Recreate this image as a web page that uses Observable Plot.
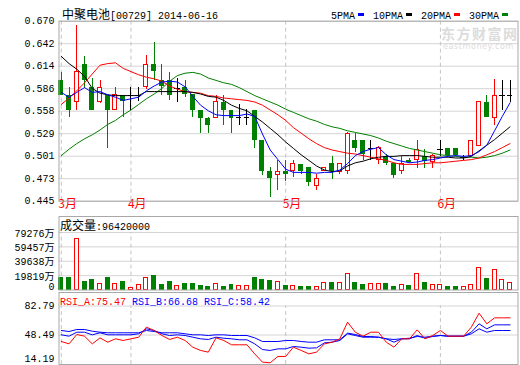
<!DOCTYPE html>
<html><head><meta charset="utf-8">
<script src="https://cdn.jsdelivr.net/npm/d3@7"></script>
<script src="https://cdn.jsdelivr.net/npm/@observablehq/plot@0.6"></script>
<style>
body{margin:0;background:#fff;}
#wrap{position:relative;width:520px;height:365px;overflow:hidden;background:#fff;}
#wrap svg{position:absolute;left:0;}
.abs{position:absolute;white-space:nowrap;line-height:12px;}
.cjk{font-family:"Noto Sans CJK SC";font-size:12px;}
.asc{font-family:"Liberation Mono";font-size:10px;}
.sw{display:inline-block;width:6px;height:3px;vertical-align:middle;margin:0 9px 0 3px;position:relative;top:-1px;}
</style></head><body><div id="wrap"></div>
<script>
// ---- data ----
const stockName = "中聚电池";
const stockCode = "[00729] 2014-06-16";
const monthIdx = [0, 9, 29, 49];
const monthLabels = ["3月", "4月", "5月", "6月"];
const priceTicks = [0.445, 0.473125, 0.50125, 0.529375, 0.5575, 0.585625, 0.61375, 0.641875, 0.670];
const priceTickLabels = ["0.445", "0.473", "0.501", "0.529", "0.558", "0.586", "0.614", "0.642", "0.670"];
const opens = [.5955,.5767,.5692,.6163,.5871,.5692,.5775,.5596,.5775,.5775,.5775,.5879,.6159,.5963,.5957,.5857,.5876,.5780,.5590,.5490,.5490,.5686,.5590,.5494,.5494,.5588,.5207,.4825,.4780,.4825,.4825,.4915,.4869,.4644,.4831,.4917,.4821,.4825,.5207,.5207,.5110,.4965,.5010,.4917,.4825,.4965,.4967,.5009,.4946,.5096,.5105,.5105,.4992,.5017,.5142,.5684,.5492,.5775,.5775];
const highs = [.6065,.5871,.6642,.6255,.5984,.5963,.5775,.5871,.5775,.5871,.5871,.6270,.6434,.6155,.6065,.5982,.5960,.5780,.5590,.5496,.5773,.5773,.5590,.5655,.5596,.5588,.5207,.4873,.4965,.4965,.4965,.4915,.4869,.4785,.4871,.5007,.4921,.5310,.5294,.5207,.5209,.5140,.5030,.4917,.5010,.4985,.5205,.5096,.5030,.5205,.5105,.5105,.5025,.5205,.5684,.5775,.5971,.5954,.5954];
const lows = [.5775,.5492,.5587,.5860,.5587,.5671,.5109,.5580,.5492,.5587,.5692,.5850,.5963,.5775,.5710,.5680,.5750,.5496,.5298,.5298,.5490,.5398,.5298,.5398,.5398,.5115,.4773,.4494,.4590,.4700,.4750,.4780,.4638,.4590,.4825,.4725,.4780,.4790,.5055,.4965,.4962,.4915,.4900,.4730,.4778,.4917,.4863,.4863,.4863,.5009,.5009,.5009,.4963,.5017,.5142,.5492,.5400,.5588,.5688];
const closes = [.5775,.5587,.6059,.5963,.5587,.5871,.5587,.5775,.5692,.5775,.5775,.6157,.6067,.5879,.5773,.5857,.5780,.5590,.5490,.5402,.5686,.5590,.5490,.5494,.5494,.5211,.4825,.4738,.4815,.4780,.4915,.4821,.4690,.4731,.4867,.4821,.4917,.5294,.5113,.5038,.5110,.5111,.4921,.4773,.4917,.4938,.5096,.4946,.5009,.5096,.5025,.5025,.4992,.5205,.5684,.5492,.5767,.5775,.5775];
const ma5 = [.581,.575,.581,.587,.581,.582,.578,.575,.571,.573,.575,.583,.589,.594,.595,.594,.588,.576,.565,.558,.553,.552,.552,.552,.554,.551,.529,.509,.497,.485,.481,.481,.481,.480,.481,.481,.484,.492,.502,.507,.510,.512,.503,.497,.495,.493,.494,.496,.497,.499,.501,.502,.501,.502,.507,.515,.533,.551,.568];
const ma10 = [.626,.617,.610,.601,.586,.580,.578,.577,.577,.577,.577,.582,.582,.582,.582,.582,.582,.581,.579,.576,.575,.571,.565,.561,.558,.551,.544,.536,.528,.519,.511,.503,.496,.489,.484,.482,.483,.489,.493,.495,.498,.500,.501,.501,.502,.502,.502,.501,.500,.500,.500,.499,.499,.501,.508,.515,.522,.530,.538];
const ma20 = [.566,.574,.583,.593,.604,.615,.617,.618,.611,.607,.603,.600,.598,.595,.589,.585,.582,.581,.580,.577,.576,.574,.573,.572,.571,.569,.565,.559,.553,.546,.537,.530,.523,.517,.512,.509,.507,.505,.504,.502,.500,.498,.496,.493,.491,.491,.491,.492,.493,.493,.494,.495,.496,.497,.499,.503,.507,.512,.517];
const ma30 = [.502,.510,.517,.523,.528,.534,.541,.546,.553,.559,.566,.573,.579,.586,.595,.602,.605,.606,.604,.599,.596,.593,.591,.587,.582,.577,.573,.569,.565,.560,.556,.552,.548,.545,.541,.538,.536,.533,.531,.529,.527,.524,.520,.517,.514,.511,.509,.507,.505,.503,.502,.501,.500,.500,.499,.500,.502,.505,.509];
const maNames = ["5PMA", "10PMA", "20PMA", "30PMA"];
const maColors = ["#0000ff", "#000000", "#ff0000", "#008000"];
const volumeTitle = "成交量";
const volumeLast = "96420000";
const volumes = [17650,17650,70590,12130,14480,8550,17650,8550,12130,2070,7580,16820,19990,7580,12130,5790,9380,9380,6200,4830,8550,4830,7580,5790,4830,17650,14890,13100,11310,6200,5790,4830,4830,3860,10340,10340,10340,22340,10340,7580,8550,8550,8960,4830,7170,5790,22340,10340,7170,7170,4830,4830,3450,7170,30610,15440,27850,14060,9642];
const volTicks = [0, 19819, 39638, 59457, 79276];
const volTickLabels = ["0", "19819万", "39638万", "59457万", "79276万"];
const rsiA = [40.8,38.0,49.1,47.1,38.0,45.1,40.0,44.0,42.0,44.0,45.9,57.8,53.8,47.9,43.2,45.9,42.0,34.1,30.2,28.2,45.1,42.0,36.9,36.9,36.9,26.2,16.4,15.6,23.1,23.1,34.1,30.2,26.2,28.2,38.0,40.0,44.0,63.7,51.8,47.1,51.8,51.8,40.0,34.1,44.0,44.0,54.6,44.0,47.9,53.8,47.1,47.1,47.1,57.8,74.3,61.7,68.8,68.8,68.8];
const rsiB = [48.7,47.1,51.8,51.8,48.7,51.1,48.7,48.7,48.7,48.7,49.9,55.8,53.8,49.9,47.9,48.7,47.9,45.9,44.0,43.2,45.9,44.7,44.0,42.8,42.8,38.0,31.3,30.2,32.1,32.1,34.9,34.1,32.9,33.3,39.2,40.0,42.0,49.9,47.9,45.9,45.9,45.9,44.0,40.0,44.0,44.0,47.9,44.7,46.7,47.9,47.1,47.1,47.1,51.8,61.7,55.8,60.5,60.5,60.5];
const rsiC = [53.8,52.6,55.0,55.0,53.0,51.8,51.1,51.1,51.1,51.1,51.1,53.8,52.6,51.1,51.1,51.1,49.9,48.7,48.7,47.9,48.7,48.7,47.9,47.9,47.9,45.1,40.8,40.8,40.8,42.0,42.0,40.8,40.0,40.0,42.8,42.8,42.8,50.7,49.1,46.7,46.7,45.9,44.0,43.2,44.0,44.7,46.7,45.9,47.1,47.9,47.1,47.1,47.1,49.9,55.8,51.8,53.8,53.8,53.8];
const rsiTicks = [14.19, 48.49, 82.79];
const rsiNames = ["RSI_A:75.47", "RSI_B:66.68", "RSI_C:58.42"];
const rsiColors = ["#ff0000", "#0000ff", "#0000ff"];

// ---- build ----
const RED = "#ff0000", GREEN = "#008000", GRID = "#d4d4d4", FRAME = "#a8a8a8", DASH = "#c4c4c4";
const bars = closes.map((c, i) => ({i, o: opens[i], h: highs[i], l: lows[i], c, v: volumes[i]}));
const up = bars.filter(d => d.c > d.o), down = bars.filter(d => d.c < d.o), flat = bars.filter(d => d.c === d.o);
const volUp = bars.filter(d => d.c >= d.o), volDown = bars.filter(d => d.c < d.o);
const months = monthIdx.map((i, k) => ({i, label: monthLabels[k]}));
const xDomain = [-0.3, 59.03];
const common = {width: 520, marginLeft: 58.5, marginRight: 2.5,
  style: {background: "transparent", fontFamily: "Liberation Mono, Noto Sans CJK SC", fontSize: "10px", overflow: "visible"}};
const line = (arr, color) => Plot.line(arr, {x: (d, i) => i, y: d => d, stroke: color, strokeWidth: 1});
const wrap = document.getElementById("wrap");

// price panel
const p1 = Plot.plot({...common, height: 216, marginTop: 20.7, marginBottom: 15.3,
  x: {domain: xDomain, axis: null}, y: {domain: [0.445, 0.670], axis: null},
  marks: [
    Plot.ruleY(priceTicks, {stroke: GRID}),
    Plot.ruleX(monthIdx, {stroke: DASH, strokeDasharray: "4,3"}),
    Plot.text(priceTicks, {y: d => d, text: d => priceTickLabels[priceTicks.indexOf(d)], frameAnchor: "left", dx: -4.5, textAnchor: "end", fill: "black"}),
    Plot.text(months, {x: "i", text: "label", frameAnchor: "bottom", dy: 7, dx: -3, textAnchor: "start", fill: RED, fontSize: 12, fontFamily: "Noto Sans CJK SC"}),
    Plot.ruleX(up, {x: "i", y1: "l", y2: "h", stroke: RED, shapeRendering: "crispEdges"}),
    Plot.ruleX(down, {x: "i", y1: "l", y2: "h", stroke: GREEN, shapeRendering: "crispEdges"}),
    Plot.ruleX(flat, {x: "i", y1: "l", y2: "h", stroke: "black", shapeRendering: "crispEdges"}),
    Plot.rect(down, {x1: d => d.i - 0.32, x2: d => d.i + 0.32, y1: "o", y2: "c", fill: GREEN, shapeRendering: "crispEdges"}),
    Plot.rect(up, {x1: d => d.i - 0.26, x2: d => d.i + 0.26, y1: "o", y2: "c", fill: "white", stroke: RED, shapeRendering: "crispEdges"}),
    Plot.ruleY(flat, {y: "c", x1: d => d.i - 0.35, x2: d => d.i + 0.35, stroke: "black", shapeRendering: "crispEdges"}),
    line(ma30, maColors[3]), line(ma20, maColors[2]), line(ma10, maColors[1]), line(ma5, maColors[0]),
    Plot.frame({stroke: FRAME})
  ]});
p1.style.top = "0px";
wrap.appendChild(p1);

// volume panel
const volTop = 79276 + 16 * 79276 / 57.5;
const p2 = Plot.plot({...common, height: 82, marginTop: 6, marginBottom: 2.5,
  x: {domain: xDomain, axis: null}, y: {domain: [0, volTop], axis: null},
  marks: [
    Plot.ruleY(volTicks.slice(1), {stroke: GRID}),
    Plot.ruleX(monthIdx, {y1: 0, y2: volTicks[4], stroke: DASH, strokeDasharray: "4,3"}),
    Plot.text(volTicks.slice(1), {y: d => d, text: d => volTickLabels[volTicks.indexOf(d)], frameAnchor: "left", dx: -4.5, dy: 1, textAnchor: "end", fill: "black"}),
    Plot.text(volTicks.slice(0, 1), {y: d => d, text: d => volTickLabels[volTicks.indexOf(d)], frameAnchor: "left", dx: -4.5, dy: -3, textAnchor: "end", fill: "black"}),
    Plot.rect(volDown, {x1: d => d.i - 0.32, x2: d => d.i + 0.32, y1: 0, y2: "v", fill: GREEN, shapeRendering: "crispEdges"}),
    Plot.rect(volUp, {x1: d => d.i - 0.26, x2: d => d.i + 0.26, y1: 0, y2: "v", fill: "white", stroke: RED, shapeRendering: "crispEdges"}),
    Plot.frame({stroke: FRAME})
  ]});
p2.style.top = "210px";
wrap.appendChild(p2);

// RSI panel
const p3 = Plot.plot({...common, height: 75, marginTop: 2, marginBottom: 1,
  x: {domain: xDomain, axis: null}, y: {domain: [13.6, 98.76], axis: null},
  marks: [
    Plot.ruleY(rsiTicks.slice(1), {stroke: GRID}),
    Plot.ruleX(monthIdx, {y1: 13.6, y2: rsiTicks[2], stroke: DASH, strokeDasharray: "4,3"}),
    Plot.text(rsiTicks.slice(1), {y: d => d, text: d => d.toFixed(2), frameAnchor: "left", dx: -4.5, textAnchor: "end", fill: "black"}),
    Plot.text(rsiTicks.slice(0, 1), {y: d => d, text: d => d.toFixed(2), frameAnchor: "left", dx: -4.5, dy: -5, textAnchor: "end", fill: "black"}),
    line(rsiC, rsiColors[2]), line(rsiB, rsiColors[1]), line(rsiA, rsiColors[0]),
    Plot.frame({stroke: FRAME})
  ]});
p3.style.top = "290px";
wrap.appendChild(p3);

// text overlays
function addDiv(html, left, top, lh) {
  const d = document.createElement("div");
  d.className = "abs"; d.style.left = left + "px"; d.style.top = top + "px";
  if (lh) d.style.lineHeight = lh + "px";
  d.innerHTML = html; wrap.appendChild(d); return d;
}
addDiv(`<span class="cjk">${stockName}</span><span class="asc">${stockCode}</span>`, 62, 8);
addDiv(maNames.map((n, k) => `<span class="asc">${n}</span><span class="sw" style="background:${maColors[k]}"></span>`).join(""), 331, 8);
addDiv(`<span style="font-family:'Noto Sans CJK SC';font-size:14px;font-weight:bold;color:#dcdcdc;letter-spacing:1.5px">东方财富网</span>`, 441, 26, 14);
addDiv(`<span style="font-family:'DejaVu Sans';font-size:8px;color:#dcdcdc;letter-spacing:0.6px">eastmoney.com</span>`, 443, 39, 9);
addDiv(`<span class="cjk">${volumeTitle}</span><span class="asc">:${volumeLast}</span>`, 60, 219);
addDiv(rsiNames.map((n, k) => `<span class="asc" style="color:${rsiColors[k]}">${n}</span>`).join(`<span class="asc"> </span>`), 60, 294);
</script></body></html>
